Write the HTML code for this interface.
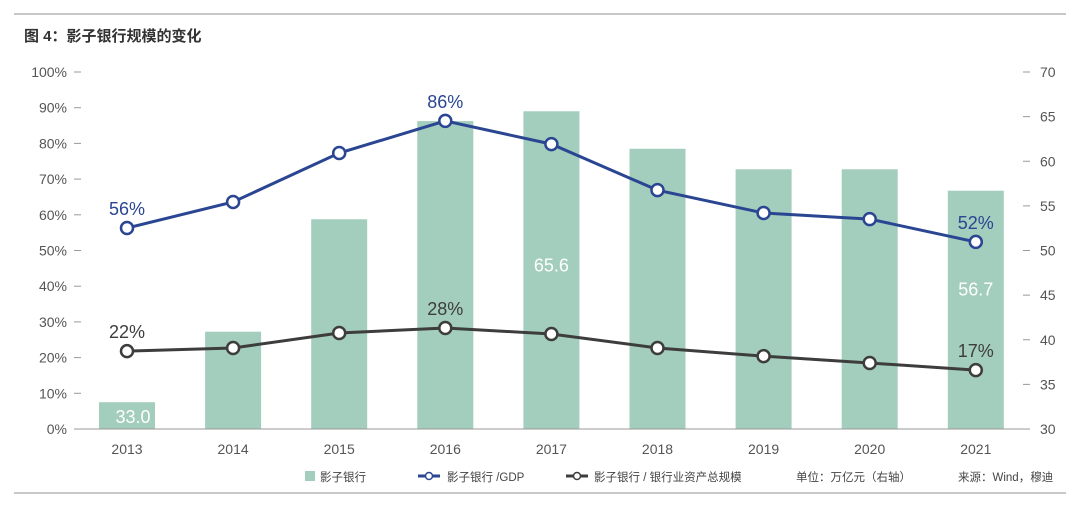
<!DOCTYPE html>
<html><head><meta charset="utf-8"><style>
body{margin:0;background:#fff;width:1080px;height:508px;overflow:hidden;font-family:"Liberation Sans","Noto Sans CJK SC",sans-serif;}
</style></head><body>
<svg id="c" width="1080" height="508" xmlns="http://www.w3.org/2000/svg" style="font-family:'Liberation Sans','Noto Sans CJK SC',sans-serif">
<line x1="14" y1="14" x2="1066" y2="14" stroke="#c8c8c8" stroke-width="2"/>
<text x="24" y="41" font-size="15" font-weight="bold" fill="#333">图 4：影子银行规模的变化</text>
<line x1="14" y1="493" x2="1066" y2="493" stroke="#c8c8c8" stroke-width="2"/>
<g id="g"></g>
</svg>
<script>
const years=["2013","2014","2015","2016","2017","2018","2019","2020","2021"];
const bankVals=[33.0,40.9,53.5,64.5,65.6,61.4,59.1,59.1,56.7];
const gdpPct=[56.3,63.6,77.3,86.3,79.8,66.9,60.5,58.8,52.4];
const assetPct=[21.8,22.7,26.9,28.3,26.6,22.7,20.4,18.5,16.5];
const leftTicks=[0,10,20,30,40,50,60,70,80,90,100];
const rightTicks=[30,35,40,45,50,55,60,65,70];
const NS="http://www.w3.org/2000/svg";
const g=document.getElementById('g');
const yTop=72,yBot=429,x0=74,x1=1030;
const xs=i=>127+i*106.1;
const yl=v=>yBot-(v/100)*(yBot-yTop);
const yr=v=>yBot-((v-30)/40)*(yBot-yTop);
function mk(t,a,txt){const e=document.createElementNS(NS,t);for(const k in a)e.setAttribute(k,a[k]);if(txt!=null)e.textContent=txt;g.appendChild(e);return e;}
leftTicks.forEach(v=>{
 const t=mk('text',{x:67,y:yl(v)+5,'font-size':14,fill:'#555','text-anchor':'end'},v+'%');
 
 
 const l=mk('line',{x1:74,x2:81,y1:yl(v),y2:yl(v),stroke:'#999'});
 
 
});
rightTicks.forEach(v=>{
 const t=mk('text',{x:1040,y:yr(v)+5,'font-size':14,fill:'#555'},v);
 
 
 const l=mk('line',{x1:1023,x2:1030,y1:yr(v),y2:yr(v),stroke:'#999'});
 
 
});
bankVals.forEach((v,i)=>{
 const r=mk('rect',{x:xs(i)-28,y:yr(v),width:56,height:yBot-yr(v),fill:'#a3cdbc'});
 
 
});
const ax=mk('line',{x1:x0,x2:x1,y1:yBot,y2:yBot,stroke:'#999'});


years.forEach((y,i)=>{
 const t=mk('text',{x:xs(i),y:454,'font-size':14,fill:'#555','text-anchor':'middle'},y);
 
 
});
[0,4,8].forEach(i=>{
 const v=bankVals[i];
 const yy=i===0?yBot-6:(i===4?yr(v)+160:yr(v)+105);
 const t=mk('text',{x:xs(i)+(i===0?6:0),y:yy,'font-size':18,fill:'#fff','text-anchor':'middle'},v.toFixed(1));
 
 
});
function series(vals,color,name,labels){
 const p=mk('polyline',{points:vals.map((v,i)=>xs(i)+','+yl(v)).join(' '),fill:'none',stroke:color,'stroke-width':3});
 
 
 vals.forEach((v,i)=>{
  const c=mk('circle',{cx:xs(i),cy:yl(v),r:6,fill:'#fff',stroke:color,'stroke-width':2.5});
  
  
 });
 labels.forEach(i=>{
  const t=mk('text',{x:xs(i),y:yl(vals[i])-13,'font-size':18,fill:color,'text-anchor':'middle'},Math.round(vals[i])+'%');
  
  
 });
}
series(gdpPct,'#2a4692','gdp-ratio',[0,3,8]);
series(assetPct,'#3d3d3d','asset-ratio',[0,3,8]);
const lr=mk('rect',{x:305,y:471,width:10,height:10,fill:'#a3cdbc'});


const items=[[320,'影子银行'],[447,'影子银行 /GDP'],[594,'影子银行 / 银行业资产总规模'],[796,'单位：万亿元（右轴）'],[958,'来源：Wind，穆迪']];
items.forEach(([x,s])=>{
 const t=mk('text',{x:x,y:481,'font-size':11.5,fill:'#444'},s);
 
 
});
[[429,'#2a4692'],[577,'#3d3d3d']].forEach(([x,c])=>{
 const l=mk('line',{x1:x-11,x2:x+11,y1:476,y2:476,stroke:c,'stroke-width':3});
 
 
 const cc=mk('circle',{cx:x,cy:476,r:3.5,fill:'#fff',stroke:c,'stroke-width':1.5});
 
 
});
</script>
</body></html>
